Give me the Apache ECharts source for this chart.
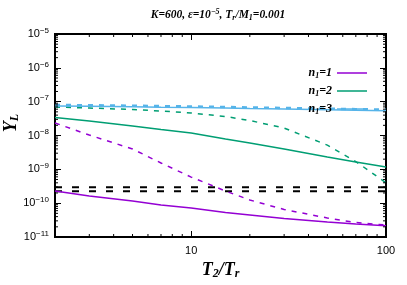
<!DOCTYPE html>
<html><head><meta charset="utf-8">
<script src="https://cdn.jsdelivr.net/npm/echarts@6/dist/echarts.min.js"></script>
<style>html,body{margin:0;padding:0;background:#fff}#c{width:407px;height:285px}</style>
</head><body><div id="c"></div>
<script>
// ---- data ----
const xValues = [2, 3, 5, 7, 10, 15, 20, 30, 50, 70, 100];
const n1_1_solid  = [2.29e-10, 1.63e-10, 1.16e-10, 8.8e-11, 7.2e-11, 5.3e-11, 4.47e-11, 3.5e-11, 2.77e-11, 2.42e-11, 2.15e-11];
const n1_1_dashed = [2.34e-8, 1.03e-8, 3.99e-9, 1.54e-9, 5.9e-10, 2.29e-10, 1.24e-10, 6.5e-11, 3.64e-11, 2.68e-11, 2.26e-11];
const n1_2_solid  = [3.4e-8, 2.68e-8, 1.91e-8, 1.5e-8, 1.19e-8, 7.9e-9, 6.0e-9, 4.0e-9, 2.31e-9, 1.64e-9, 1.17e-9];
const n1_2_dashed = [6.95e-8, 6.5e-8, 5.86e-8, 5.3e-8, 4.62e-8, 3.64e-8, 2.77e-8, 1.66e-8, 5.2e-9, 1.7e-9, 4.0e-10];
const n1_3_solid  = [7.44e-8, 7.3e-8, 7.05e-8, 6.86e-8, 6.68e-8, 6.45e-8, 6.28e-8, 6.07e-8, 5.78e-8, 5.6e-8, 5.4e-8];
const n1_3_dashed = [7.96e-8, 7.85e-8, 7.6e-8, 7.4e-8, 7.2e-8, 6.95e-8, 6.75e-8, 6.5e-8, 6.2e-8, 6.0e-8, 5.86e-8];
const refLevelUpper = 2.95e-10;
const refLevelLower = 2.25e-10;
const refX = [2, 100];
const xMin = 2, xMax = 100, yMin = 1e-11, yMax = 1e-5;
const xMajorLabels = [10, 100];
const xMinorTicks = [3,4,5,6,7,8,9,20,30,40,50,60,70,80,90];
const yMinorMantissas = [2,3,4,5,6,7,8,9];
const yDecades = [-11,-10,-9,-8,-7,-6];
const legendNames = ['n1=1', 'n1=2', 'n1=3'];

const purple = '#9400D3', green = '#009E73', blue = '#56B4E9';
const pairs = arr => xValues.map((x, i) => [x, arr[i]]);
const yMinorTicks = [];
yDecades.forEach(d => yMinorMantissas.forEach(m => yMinorTicks.push(m * Math.pow(10, d))));

const serif = 'Liberation Serif';
const sans = 'Liberation Sans';

function lineSeries(name, data, color, dashed, width) {
  return {
    name: name, type: 'line', data: pairs(data), symbol: 'none', smooth: false,
    silent: true, animation: false,
    lineStyle: { color: color, width: width || 1.5, type: dashed ? [5, 6] : 'solid' },
    itemStyle: { color: color }
  };
}
function refSeries(level) {
  return {
    name: 'ref', type: 'line', data: refX.map(x => [x, level]), symbol: 'none',
    silent: true, animation: false,
    lineStyle: { color: '#000', width: 2, type: [7, 10] }
  };
}
function minorTickSeries(values, isX) {
  return {
    type: 'custom', silent: true, animation: false, clip: false, z: 10,
    data: values.map(v => isX ? [v, yMin] : [xMin, v]),
    renderItem: function (params, api) {
      const cs = params.coordSys;
      const p = api.coord([api.value(0), api.value(1)]);
      const st = { stroke: '#000', lineWidth: 1 };
      const L = 3;
      if (isX) {
        const yb = cs.y + cs.height, yt = cs.y;
        return { type: 'group', children: [
          { type: 'line', shape: { x1: p[0], y1: yb, x2: p[0], y2: yb - L }, style: st },
          { type: 'line', shape: { x1: p[0], y1: yt, x2: p[0], y2: yt + L }, style: st }
        ]};
      } else {
        const xl = cs.x, xr = cs.x + cs.width;
        return { type: 'group', children: [
          { type: 'line', shape: { x1: xl, y1: p[1], x2: xl + L, y2: p[1] }, style: st },
          { type: 'line', shape: { x1: xr, y1: p[1], x2: xr - L, y2: p[1] }, style: st }
        ]};
      }
    }
  };
}

const nameRich = {
  i: { fontFamily: serif, fontStyle: 'italic', fontWeight: 'bold', fontSize: 18, fill: '#000', color: '#000' },
  s: { fontFamily: serif, fontStyle: 'italic', fontWeight: 'bold', fontSize: 12, padding: [8, 0, 0, 0], fill: '#000', color: '#000' }
};
const tickStyle = { inside: true, length: 6, lineStyle: { color: '#000', width: 1 } };
const chart = echarts.init(document.getElementById('c'), null, { renderer: 'canvas' });
chart.setOption({
  animation: false,
  backgroundColor: '#fff',
  grid: { left: 55, right: 21, top: 34, bottom: 48, show: true, borderColor: '#000', borderWidth: 2,
          backgroundColor: 'transparent', containLabel: false, outerBoundsMode: 'none' },
  graphic: [{
    type: 'text', x: 218, y: 15, z: 100,
    style: {
      align: 'center', verticalAlign: 'middle',
      text: '{t|K=600, ε=10}{sup|−5}{t|, T}{sub|r}{t|/M}{sub|1}{t|=0.001}',
      rich: {
        t: { fontFamily: serif, fontStyle: 'italic', fontWeight: 'bold', fontSize: 11.5, fill: '#000' },
        sup: { fontFamily: serif, fontStyle: 'italic', fontWeight: 'bold', fontSize: 8, padding: [0, 0, 7, 0], fill: '#000' },
        sub: { fontFamily: serif, fontStyle: 'italic', fontWeight: 'bold', fontSize: 8, padding: [5, 0, 0, 0], fill: '#000' }
      }
    }
  }, {
    type: 'text', x: 11, y: 123, rotation: Math.PI / 2, z: 100,
    style: { align: 'center', verticalAlign: 'middle', text: '{i|Y}{s|L}', rich: nameRich }
  }],
  legend: {
    data: legendNames.map(n => ({ name: n, icon: 'rect' })), orient: 'vertical', right: 35, top: 62, align: 'right',
    itemWidth: 30, itemHeight: 1.5, itemGap: 5, selectedMode: false,
    formatter: function (name) { return '{i|n}{s|1}{i|=' + name.slice(3) + '}'; },
    textStyle: {
      rich: {
        i: { fontFamily: serif, fontStyle: 'italic', fontWeight: 'bold', fontSize: 12, color: '#000' },
        s: { fontFamily: serif, fontStyle: 'italic', fontWeight: 'bold', fontSize: 8, padding: [6, 0, 0, 0], color: '#000' }
      }
    }
  },
  xAxis: [{
    type: 'log', logBase: 10, min: xMin, max: xMax,
    name: '{i|T}{s|2}{i|/T}{s|r}', nameLocation: 'middle', nameGap: 23,
    nameTextStyle: { rich: nameRich },
    axisLine: { show: false }, splitLine: { show: false }, axisTick: tickStyle,
    axisLabel: {
      margin: 8, color: '#000', fontFamily: sans, fontSize: 11,
      formatter: v => xMajorLabels.some(m => Math.abs(v - m) < 1e-6) ? String(Math.round(v)) : ''
    }
  }, {
    type: 'log', logBase: 10, min: xMin, max: xMax, position: 'top',
    axisLine: { show: false }, splitLine: { show: false }, axisTick: tickStyle, axisLabel: { show: false }
  }],
  yAxis: [{
    type: 'log', logBase: 10, min: yMin, max: yMax,
    axisLine: { show: false }, splitLine: { show: false }, axisTick: tickStyle,
    axisLabel: {
      margin: 6, color: '#000',
      formatter: v => '{b|10}{s|−' + Math.abs(Math.round(Math.log10(v))) + '}',
      rich: {
        b: { fontFamily: sans, fontSize: 11, color: '#000' },
        s: { fontFamily: sans, fontSize: 8, padding: [0, 0, 7, 0], color: '#000' }
      }
    }
  }, {
    type: 'log', logBase: 10, min: yMin, max: yMax, position: 'right',
    axisLine: { show: false }, splitLine: { show: false }, axisTick: tickStyle, axisLabel: { show: false }
  }],
  series: [
    refSeries(refLevelUpper),
    refSeries(refLevelLower),
    lineSeries('n1=1 dashed', n1_1_dashed, purple, true),
    lineSeries('n1=2 dashed', n1_2_dashed, green, true),
    lineSeries('n1=3 dashed', n1_3_dashed, blue, true, 2.5),
    lineSeries('n1=1', n1_1_solid, purple, false),
    lineSeries('n1=2', n1_2_solid, green, false),
    lineSeries('n1=3', n1_3_solid, blue, false),
    minorTickSeries(xMinorTicks, true),
    minorTickSeries(yMinorTicks, false)
  ]
});
</script></body></html>
